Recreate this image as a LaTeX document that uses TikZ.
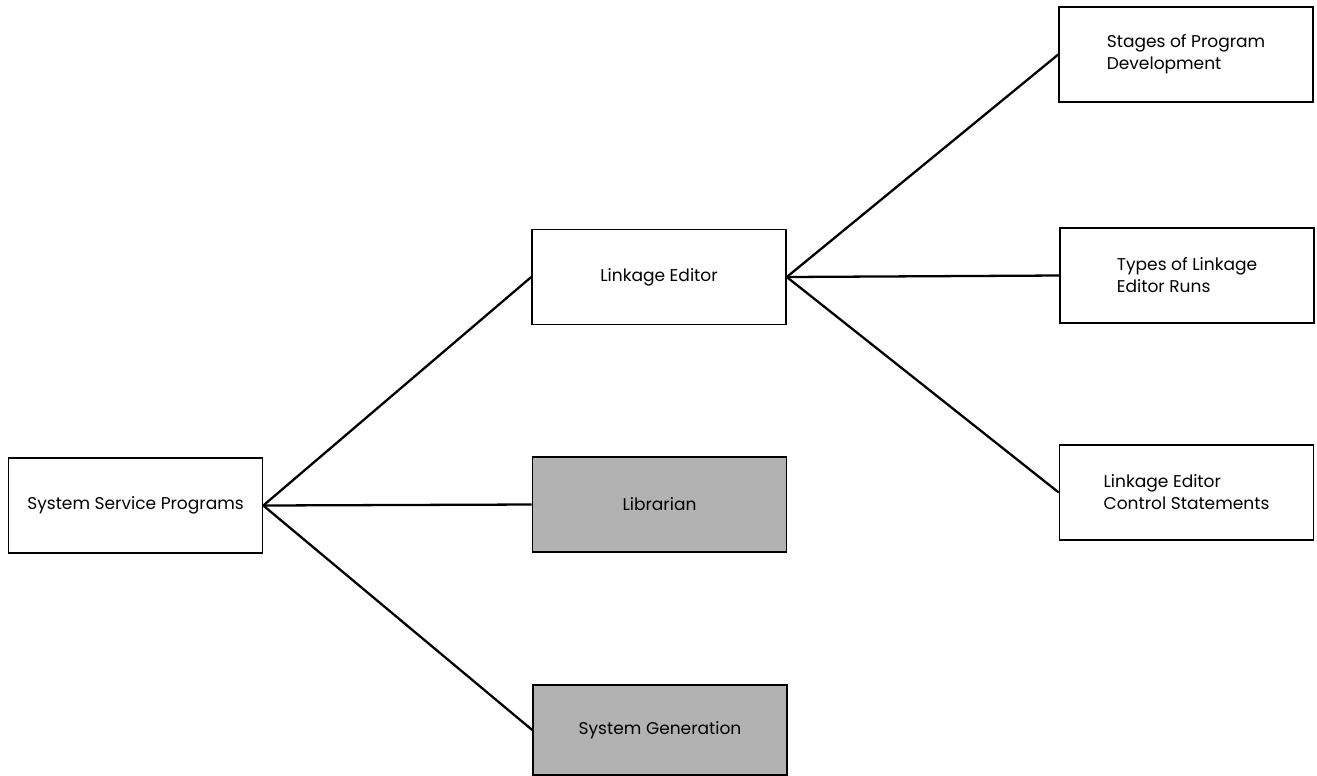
\documentclass[tikz,border=0pt]{standalone}
\usepackage{fontspec}
\setmainfont{Poppins}
\usetikzlibrary{positioning}

\begin{document}
\begin{tikzpicture}[
    x=0.02cm, y=-0.02cm, font=\fontsize{9.7}{12.5}\selectfont,
    box/.style={draw,line width=0.9pt,align=left,minimum width=5.08cm,minimum height=1.9cm,inner sep=0pt},
    shaded/.style={box,fill=black!30},
    link/.style={line width=1.3pt},
]
\useasboundingbox (0,0) rectangle (1317,775);

% ================= root =================
\node[box] (ssp) at (135.5,505.5) {System Service Programs};

% ================= second level =================
\node[box] (led) at (659,277) {Linkage Editor};
\node[shaded] (lib) at (659.5,504.5) {Librarian};
\node[shaded,minimum height=1.8cm] (sgen) at (660,730) {System Generation};

% ================= third level (linkage editor topics) =================
\node[box] (stages) at (1186,54.5) {Stages of Program\\Development};
\node[box] (types) at (1187,275.5) {Types of Linkage\\Editor Runs};
\node[box] (ctrl) at (1186.5,492.5) {Linkage Editor\\Control Statements};

% connectors
\draw[link] (ssp.east) -- (led.west);
\draw[link] (ssp.east) -- (lib.west);
\draw[link] (ssp.east) -- (sgen.west);
\draw[link] (led.east) -- (stages.west);
\draw[link] (led.east) -- (types.west);
\draw[link] (led.east) -- (ctrl.west);

\end{tikzpicture}
\end{document}
